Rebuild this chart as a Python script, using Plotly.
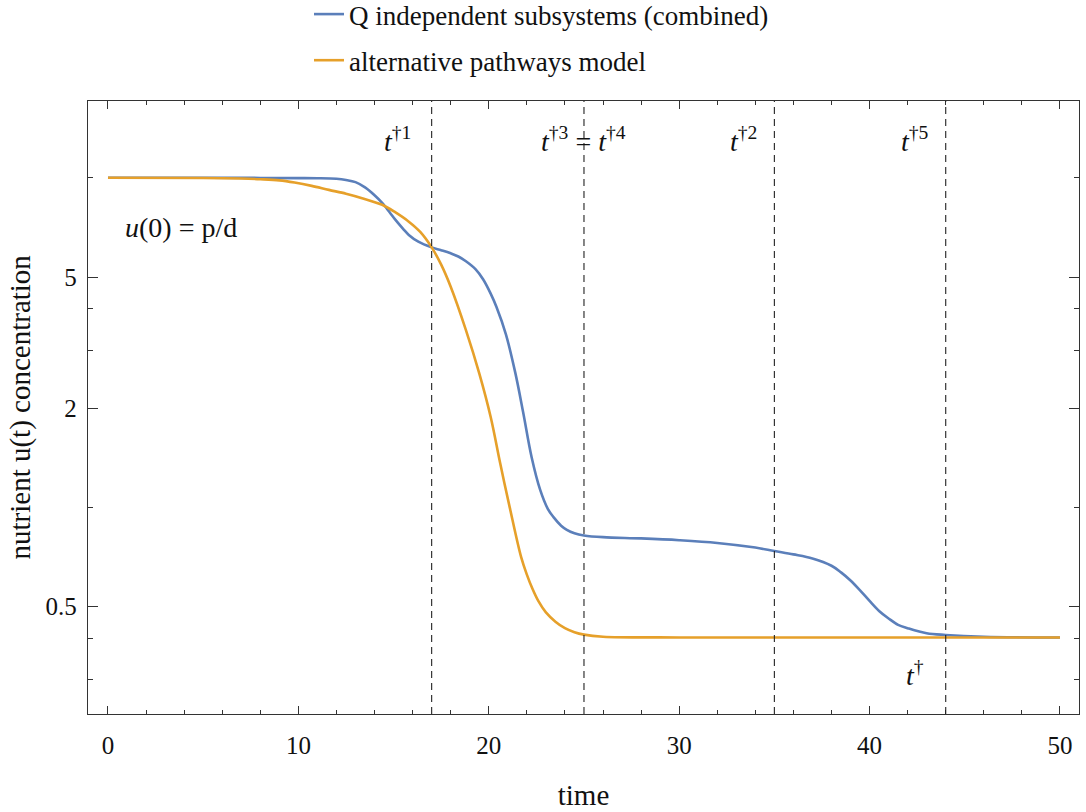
import math
import plotly.graph_objects as go

# Q independent subsystems (combined)
t_blue = [0, 4, 8, 10, 11, 12, 12.5, 13, 13.5, 14, 14.4, 14.8, 15.1, 15.5, 15.8, 16.3,
          17.0, 17.5, 18.0, 18.4, 18.8, 19.3, 19.7, 20.1, 20.4, 20.9, 21.4, 21.8, 22.25,
          22.7, 23.1, 23.4, 23.8, 24.1, 24.5, 25.0, 26, 28, 30, 32, 34, 35, 36, 37, 38,
          38.5, 39, 39.5, 40, 40.5, 41, 41.5, 42, 43, 44, 46, 50]
u_blue = [10, 10, 9.99, 9.98, 9.97, 9.93, 9.85, 9.7, 9.35, 8.85, 8.39, 7.85, 7.45, 7.0,
          6.71, 6.4, 6.15, 6.03, 5.90, 5.77, 5.58, 5.28, 4.92, 4.45, 4.06, 3.35, 2.55,
          1.95, 1.42, 1.13, 0.99, 0.934, 0.88, 0.855, 0.835, 0.822, 0.812, 0.805, 0.795,
          0.78, 0.755, 0.737, 0.72, 0.70, 0.665, 0.635, 0.60, 0.56, 0.52, 0.485, 0.46,
          0.44, 0.43, 0.415, 0.41, 0.405, 0.403]

# alternative pathways model
t_orange = [0, 5, 7, 8, 9, 9.8, 10.7, 11.6, 12.5, 13.3, 14.4, 15.1, 15.8, 16.4, 17.0,
            17.5, 18.0, 18.8, 19.5, 20.1, 20.6, 21.1, 21.7, 22.0, 22.3, 22.6, 23.0,
            23.5, 24.0, 24.5, 25.0, 26, 30, 50]
u_orange = [10, 9.99, 9.95, 9.9, 9.82, 9.67, 9.45, 9.19, 8.95, 8.69, 8.28, 7.85, 7.36,
            6.85, 6.15, 5.45, 4.67, 3.45, 2.55, 1.88, 1.36, 1.0, 0.706, 0.625, 0.565,
            0.52, 0.48, 0.45, 0.43, 0.418, 0.411, 0.405, 0.403, 0.403]

# threshold times (vertical markers)
t_marks = [17, 25, 35, 44]

# marker labels: (time, concentration, text)
mark_labels = [
    (15.2, 13.05, "<i>t</i><sup>†1</sup>"),
    (25.0, 13.05, "<i>t</i><sup>†3</sup> = <i>t</i><sup>†4</sup>"),
    (33.4, 13.05, "<i>t</i><sup>†2</sup>"),
    (42.4, 13.05, "<i>t</i><sup>†5</sup>"),
    (42.4, 0.313, "<i>t</i><sup>†</sup>"),
]

x_major = [0, 10, 20, 30, 40, 50]
x_minor = [v for v in range(0, 51, 2) if v % 10]
y_major = [0.5, 2, 5]
y_major_text = ["0.5", "2", "5"]
y_minor = [0.3, 0.4, 1, 3, 4, 10]

FONT = "Liberation Serif"
BLUE = "#5b7fba"
ORANGE = "#e6a02a"
AXC = "#333333"
TXT = "#111111"

fig = go.Figure()
fig.add_trace(go.Scatter(x=t_blue, y=u_blue, mode="lines", line_shape="spline",
                         name="Q independent subsystems (combined)",
                         line=dict(color=BLUE, width=2.6), legendgroup="a"))
fig.add_trace(go.Scatter(x=t_orange, y=u_orange, mode="lines", line_shape="spline",
                         name="alternative pathways model",
                         line=dict(color=ORANGE, width=2.6), legendgroup="b"))

for tm in t_marks:
    fig.add_shape(type="line", x0=tm, x1=tm, xref="x", y0=0, y1=1, yref="y domain",
                  line=dict(color="#222222", width=1.1, dash="7px,5px"))

ann_font = dict(family=FONT, size=28, color=TXT)
for x, y, txt in mark_labels:
    fig.add_annotation(x=x, y=math.log10(y), xref="x", yref="y",
                       text=txt, showarrow=False, font=ann_font)

fig.add_annotation(x=0.8, y=math.log10(7.05), xref="x", yref="y", xanchor="left",
                   text="<i>u</i>(0) = p/d", showarrow=False, font=ann_font)

# y-axis title
fig.add_annotation(x=-0.0686, y=0.5, xref="paper", yref="paper", textangle=-90,
                   xanchor="center", yanchor="middle", showarrow=False,
                   text="nutrient u(t) concentration",
                   font=dict(family=FONT, size=29, color=TXT))

fig.update_layout(
    width=1086, height=812,
    margin=dict(l=88, r=7, t=101, b=98, autoexpand=False),
    paper_bgcolor="white", plot_bgcolor="white",
    font=dict(family=FONT, size=25, color=TXT),
    showlegend=True,
    legend=dict(x=0.223, y=1.181, xanchor="left", yanchor="top",
                orientation="v", tracegroupgap=8, bgcolor="rgba(0,0,0,0)",
                font=dict(family=FONT, size=27, color=TXT)),
    xaxis=dict(range=[-1.05, 51.0], tickvals=x_major, ticks="inside", ticklen=8,
               tickwidth=1, tickcolor=AXC, showline=True, linecolor=AXC, linewidth=1.4,
               mirror="allticks", showgrid=False, zeroline=False, ticklabelstandoff=9,
               tickfont=dict(family=FONT, size=25, color=TXT),
               minor=dict(tickvals=x_minor, ticks="inside", ticklen=4, tickcolor=AXC),
               title=dict(text="time", standoff=26,
                          font=dict(family=FONT, size=29, color=TXT))),
    yaxis=dict(type="log", range=[-0.627, 1.233], tickvals=y_major, ticktext=y_major_text,
               ticks="inside", ticklen=10, tickwidth=1, tickcolor=AXC, showline=True,
               linecolor=AXC, linewidth=1.4, mirror="allticks", showgrid=False,
               zeroline=False, ticklabelstandoff=5,
               tickfont=dict(family=FONT, size=25, color=TXT),
               minor=dict(tickvals=y_minor, ticks="inside", ticklen=5, tickcolor=AXC)),
)

fig.write_html("out.html")
